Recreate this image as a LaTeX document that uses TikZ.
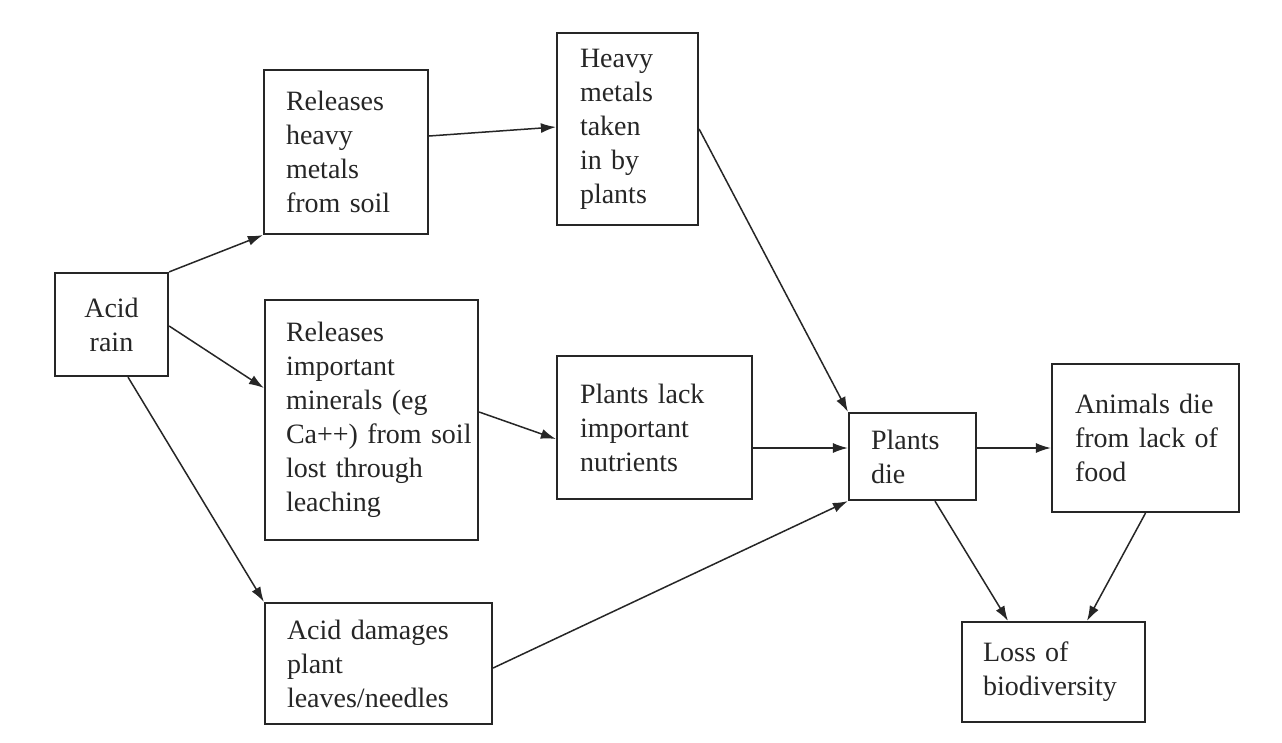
\documentclass[tikz,border=0pt]{standalone}
\usepackage{fontspec}
\setmainfont{Liberation Serif}
\usetikzlibrary{arrows.meta}
\definecolor{ink}{HTML}{262626}
\begin{document}
\begin{tikzpicture}[x=1pt,y=-1pt,
  box/.style={draw=ink, line width=2.2pt, text=ink, align=left, inner xsep=22pt, inner ysep=0pt,
    font=\fontsize{28}{34}\selectfont, rectangle},
  conn/.style={draw=ink, line width=1.5pt, -{Latex[length=15pt,width=10pt]}},
  link/.style={draw=ink, line width=1.5pt}]
\useasboundingbox[fill=white] (0,0) rectangle (1282,742);

\node[box, align=center, text width=69pt, minimum height=103pt] (rain) at (111.5,324.5) {Acid\\rain};
\node[box, text width=120pt, minimum height=164pt] (relh) at (346,152) {Releases\\heavy\\metals\\from~soil};
\node[box, text width=95pt, inner xsep=23pt, minimum height=192pt] (taken) at (627.5,129) {Heavy\\metals\\taken\\in~by\\plants};
\node[box, text width=171pt, inner xsep=21pt, minimum height=240pt] (minerals) at (371.5,420) {Releases\\important\\minerals~(eg\\Ca++)~from~soil\\lost~through\\leaching};
\node[box, text width=149pt, inner xsep=23pt, minimum height=143pt] (lack) at (654.5,427.5) {Plants~lack\\important\\nutrients};
\node[box, text width=183pt, minimum height=121pt] (damage) at (378.5,663.5) {Acid~damages\\plant\\leaves/needles};
\node[box, text width=83pt, minimum height=87pt] (die) at (912.5,456.5) {Plants\\die};
\node[box, text width=141pt, inner xsep=23pt, minimum height=148pt] (animals) at (1145.5,438) {Animals~die\\from~lack~of\\food};
\node[box, text width=141pt, inner xsep=21pt, minimum height=100pt] (loss) at (1053.5,672) {Loss~of\\biodiversity};

\draw[conn] (rain.north east) -- (relh.south west);
\draw[conn] ([yshift=-1.5pt]rain.east) -- ([yshift=32pt]minerals.west);
\draw[conn] ([xshift=16.5pt]rain.south) -- (damage.north west);
\draw[conn] ([yshift=16pt]relh.east) -- ([yshift=2pt]taken.west);
\draw[conn] (taken.east) -- (die.north west);
\draw[conn] ([yshift=8pt]minerals.east) -- ([yshift=-11.5pt]lack.west);
\draw[conn] ([yshift=-20.5pt]lack.east) -- ([yshift=8.5pt]die.west);
\draw[conn] ([yshift=-4.5pt]damage.east) -- (die.south west);
\draw[conn] ([yshift=8.5pt]die.east) -- ([yshift=-10pt]animals.west);
\draw[conn] ([xshift=22.5pt]die.south) -- ([xshift=-45.5pt]loss.north);
\draw[conn] (animals.south) -- ([xshift=33.5pt]loss.north);
\end{tikzpicture}
\end{document}
